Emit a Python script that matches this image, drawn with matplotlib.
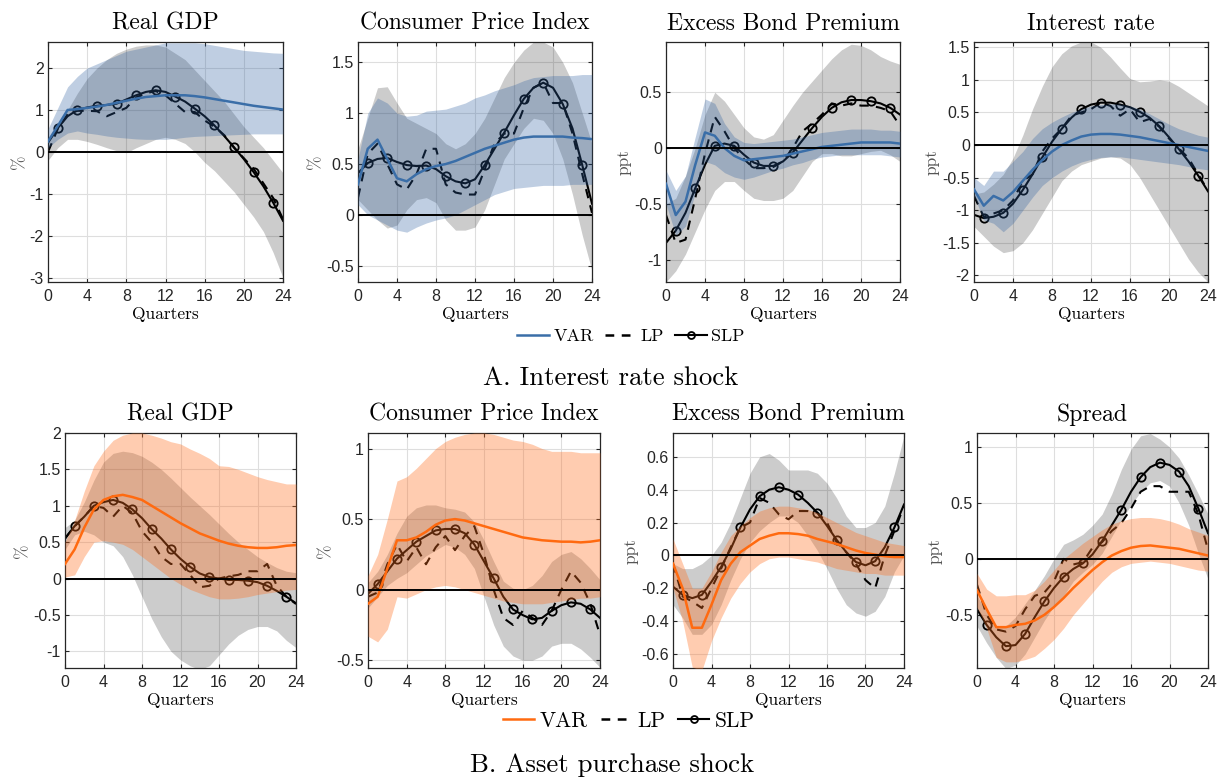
import numpy as np
import matplotlib
matplotlib.use('Agg')
import matplotlib.pyplot as plt
import matplotlib.ticker as ticker
from matplotlib.lines import Line2D

quarters = np.arange(25)

# ---- A. Interest rate shock ----
gdp_a_var = [0.25, 0.62, 1.0, 1.02, 1.05, 1.08, 1.12, 1.17, 1.22, 1.27, 1.31, 1.33, 1.35, 1.35, 1.35, 1.33, 1.3, 1.26, 1.22, 1.18, 1.14, 1.1, 1.07, 1.04, 1.01]
gdp_a_var_lo = [0.1, 0.3, 0.45, 0.5, 0.45, 0.42, 0.38, 0.35, 0.33, 0.31, 0.3, 0.3, 0.3, 0.32, 0.35, 0.37, 0.38, 0.39, 0.4, 0.41, 0.42, 0.43, 0.43, 0.43, 0.43]
gdp_a_var_hi = [0.55, 1.05, 1.55, 1.8, 2.0, 2.1, 2.2, 2.3, 2.4, 2.45, 2.5, 2.55, 2.6, 2.6, 2.6, 2.6, 2.58, 2.54, 2.5, 2.46, 2.42, 2.4, 2.38, 2.36, 2.35]
gdp_a_lp = [0.0, 0.55, 0.9, 0.98, 0.98, 0.97, 0.85, 0.95, 1.05, 1.3, 1.4, 1.45, 1.35, 1.15, 0.95, 0.95, 0.75, 0.6, 0.4, 0.1, -0.15, -0.4, -0.75, -1.1, -1.6]
gdp_a_slp = [0.22, 0.57, 0.85, 1.0, 1.06, 1.1, 1.12, 1.15, 1.25, 1.35, 1.43, 1.47, 1.43, 1.32, 1.2, 1.03, 0.85, 0.63, 0.38, 0.11, -0.17, -0.48, -0.82, -1.21, -1.64]
gdp_a_slp_lo = [-0.2, 0.1, 0.3, 0.3, 0.25, 0.18, 0.1, 0.03, -0.02, 0.1, 0.2, 0.3, 0.35, 0.3, 0.2, 0.0, -0.25, -0.45, -0.7, -0.95, -1.25, -1.55, -1.9, -2.4, -3.0]
gdp_a_slp_hi = [0.3, 0.65, 1.0, 1.4, 1.75, 2.0, 2.2, 2.35, 2.45, 2.52, 2.55, 2.55, 2.5, 2.35, 2.2, 1.95, 1.7, 1.45, 1.2, 0.9, 0.6, 0.35, 0.1, -0.2, -0.5]

cpi_a_var = [0.3, 0.65, 0.74, 0.55, 0.36, 0.33, 0.4, 0.45, 0.48, 0.5, 0.53, 0.57, 0.61, 0.65, 0.68, 0.71, 0.74, 0.76, 0.77, 0.77, 0.77, 0.77, 0.76, 0.755, 0.745]
cpi_a_var_lo = [0.1, 0.0, -0.05, -0.1, -0.15, -0.17, -0.12, -0.08, -0.05, -0.03, 0.0, 0.05, 0.1, 0.15, 0.2, 0.23, 0.26, 0.27, 0.28, 0.29, 0.29, 0.29, 0.3, 0.3, 0.3]
cpi_a_var_hi = [0.55, 1.0, 1.15, 1.1, 1.0, 0.97, 0.98, 1.02, 1.03, 1.04, 1.07, 1.1, 1.15, 1.18, 1.22, 1.25, 1.28, 1.32, 1.35, 1.36, 1.37, 1.37, 1.37, 1.38, 1.38]
cpi_a_lp = [0.17, 0.6, 0.7, 0.5, 0.3, 0.25, 0.4, 0.65, 0.65, 0.3, 0.22, 0.2, 0.2, 0.45, 0.7, 0.8, 0.8, 1.05, 1.25, 1.3, 1.1, 1.1, 0.8, 0.4, 0.02]
cpi_a_slp = [0.41, 0.51, 0.55, 0.56, 0.52, 0.49, 0.48, 0.485, 0.45, 0.38, 0.33, 0.31, 0.35, 0.49, 0.65, 0.81, 0.98, 1.14, 1.25, 1.3, 1.25, 1.09, 0.85, 0.49, 0.11]
cpi_a_slp_lo = [0.15, 0.05, -0.05, -0.13, -0.1, 0.05, 0.15, 0.17, 0.12, -0.05, -0.15, -0.15, -0.12, 0.05, 0.3, 0.55, 0.7, 0.85, 0.95, 0.93, 0.8, 0.55, 0.2, -0.2, -0.55]
cpi_a_slp_hi = [0.65, 0.95, 1.25, 1.26, 1.1, 0.95, 0.9, 0.85, 0.8, 0.7, 0.65, 0.7, 0.8, 0.95, 1.15, 1.35, 1.5, 1.62, 1.7, 1.7, 1.65, 1.5, 1.3, 1.0, 0.7]

ebp_a_var = [-0.32, -0.6, -0.48, -0.15, 0.14, 0.11, 0.0, -0.07, -0.11, -0.1, -0.09, -0.08, -0.07, -0.05, -0.03, -0.01, 0.01, 0.02, 0.03, 0.04, 0.05, 0.05, 0.05, 0.05, 0.04]
ebp_a_var_lo = [-0.5, -0.78, -0.7, -0.4, -0.12, -0.15, -0.22, -0.26, -0.28, -0.26, -0.23, -0.2, -0.18, -0.15, -0.13, -0.1, -0.08, -0.07, -0.06, -0.06, -0.06, -0.06, -0.06, -0.07, -0.08]
ebp_a_var_hi = [-0.2, -0.38, -0.25, 0.1, 0.44, 0.4, 0.22, 0.1, 0.05, 0.04, 0.05, 0.06, 0.07, 0.08, 0.1, 0.12, 0.14, 0.15, 0.16, 0.17, 0.17, 0.17, 0.16, 0.16, 0.15]
ebp_a_lp = [-0.6, -0.85, -0.82, -0.45, -0.05, 0.28, 0.15, 0.0, -0.1, -0.18, -0.18, -0.17, -0.12, 0.0, 0.15, 0.22, 0.3, 0.4, 0.38, 0.4, 0.38, 0.38, 0.36, 0.33, 0.2]
ebp_a_slp = [-0.85, -0.74, -0.58, -0.36, -0.15, 0.02, 0.04, 0.02, -0.06, -0.13, -0.16, -0.16, -0.12, -0.04, 0.07, 0.18, 0.28, 0.36, 0.41, 0.43, 0.43, 0.42, 0.4, 0.36, 0.3]
ebp_a_slp_lo = [-1.2, -1.1, -0.95, -0.75, -0.55, -0.38, -0.3, -0.3, -0.38, -0.45, -0.47, -0.47, -0.45, -0.38, -0.25, -0.12, -0.05, -0.05, -0.07, -0.07, -0.05, -0.03, -0.02, -0.06, -0.12]
ebp_a_slp_hi = [-0.5, -0.45, -0.25, 0.0, 0.3, 0.5, 0.42, 0.3, 0.18, 0.1, 0.08, 0.12, 0.25, 0.38, 0.5, 0.6, 0.7, 0.8, 0.88, 0.93, 0.92, 0.88, 0.82, 0.78, 0.75]

ir_a_var = [-0.68, -0.93, -0.78, -0.85, -0.72, -0.55, -0.38, -0.23, -0.1, 0.0, 0.07, 0.13, 0.16, 0.17, 0.17, 0.16, 0.14, 0.12, 0.09, 0.06, 0.03, 0.0, -0.03, -0.06, -0.09]
ir_a_var_lo = [-0.78, -1.15, -1.2, -1.33, -1.2, -1.0, -0.8, -0.62, -0.5, -0.4, -0.32, -0.26, -0.22, -0.19, -0.18, -0.18, -0.2, -0.22, -0.24, -0.26, -0.28, -0.3, -0.33, -0.36, -0.38]
ir_a_var_hi = [-0.5, -0.62, -0.4, -0.4, -0.25, -0.1, 0.1, 0.25, 0.35, 0.43, 0.5, 0.55, 0.6, 0.62, 0.63, 0.63, 0.6, 0.55, 0.48, 0.4, 0.32, 0.25, 0.2, 0.15, 0.12]
ir_a_lp = [-0.78, -1.1, -1.05, -1.0, -0.85, -0.55, -0.45, -0.1, 0.1, 0.25, 0.45, 0.5, 0.55, 0.65, 0.6, 0.45, 0.55, 0.35, 0.4, 0.28, 0.1, -0.05, -0.2, -0.45, -0.7]
ir_a_slp = [-1.07, -1.12, -1.1, -1.04, -0.9, -0.69, -0.45, -0.19, 0.05, 0.25, 0.42, 0.55, 0.62, 0.65, 0.65, 0.62, 0.58, 0.51, 0.42, 0.29, 0.12, -0.06, -0.25, -0.47, -0.71]
ir_a_slp_lo = [-1.25, -1.4, -1.55, -1.65, -1.62, -1.5, -1.3, -1.05, -0.8, -0.55, -0.4, -0.3, -0.25, -0.2, -0.18, -0.2, -0.3, -0.5, -0.75, -1.0, -1.25, -1.5, -1.75, -1.95, -2.1]
ir_a_slp_hi = [-0.75, -0.72, -0.6, -0.45, -0.2, 0.15, 0.55, 0.9, 1.2, 1.4, 1.52, 1.58, 1.58, 1.5, 1.35, 1.18, 1.02, 0.97, 0.98, 1.0, 0.98, 0.9, 0.8, 0.7, 0.6]

# ---- B. Asset purchase shock ----
gdp_b_var = [0.2, 0.4, 0.7, 0.95, 1.08, 1.13, 1.15, 1.12, 1.08, 1.0, 0.92, 0.84, 0.76, 0.69, 0.62, 0.57, 0.52, 0.48, 0.45, 0.43, 0.42, 0.42, 0.43, 0.45, 0.46]
gdp_b_var_lo = [0.02, 0.05, 0.3, 0.5, 0.52, 0.5, 0.47, 0.4, 0.3, 0.2, 0.1, 0.0, -0.08, -0.15, -0.2, -0.25, -0.28, -0.28, -0.27, -0.25, -0.22, -0.2, -0.18, -0.16, -0.15]
gdp_b_var_hi = [0.5, 0.8, 1.2, 1.55, 1.75, 1.9, 1.97, 2.0, 2.0, 1.97, 1.93, 1.88, 1.85, 1.78, 1.72, 1.65, 1.55, 1.54, 1.5, 1.45, 1.4, 1.36, 1.33, 1.3, 1.3]
gdp_b_lp = [0.55, 0.72, 0.85, 1.0, 0.97, 0.85, 1.0, 0.9, 0.65, 0.5, 0.3, 0.2, 0.2, 0.05, -0.12, -0.1, 0.0, 0.03, 0.05, 0.1, 0.1, 0.2, -0.1, -0.25, -0.35]
gdp_b_slp = [0.55, 0.72, 0.85, 1.0, 1.05, 1.08, 1.04, 0.95, 0.83, 0.68, 0.55, 0.4, 0.27, 0.16, 0.07, 0.02, 0.0, -0.02, -0.02, -0.03, -0.05, -0.1, -0.17, -0.25, -0.34]
gdp_b_slp_lo = [0.4, 0.6, 0.65, 0.6, 0.5, 0.45, 0.3, 0.05, -0.25, -0.55, -0.8, -1.0, -1.12, -1.2, -1.25, -1.2, -1.05, -0.9, -0.78, -0.7, -0.66, -0.66, -0.72, -0.85, -0.95]
gdp_b_slp_hi = [0.7, 0.8, 1.05, 1.35, 1.6, 1.72, 1.75, 1.73, 1.68, 1.6, 1.5, 1.38, 1.25, 1.12, 1.0, 0.88, 0.75, 0.62, 0.5, 0.4, 0.3, 0.22, 0.15, 0.1, 0.08]

cpi_b_var = [-0.1, -0.05, 0.15, 0.35, 0.35, 0.37, 0.41, 0.46, 0.49, 0.5, 0.49, 0.47, 0.45, 0.43, 0.41, 0.39, 0.37, 0.36, 0.35, 0.345, 0.34, 0.34, 0.335, 0.34, 0.35]
cpi_b_var_lo = [-0.33, -0.37, -0.28, -0.05, -0.06, -0.03, 0.0, 0.02, 0.03, 0.02, 0.0, -0.02, -0.04, -0.06, -0.08, -0.09, -0.1, -0.1, -0.1, -0.09, -0.08, -0.07, -0.06, -0.06, -0.05]
cpi_b_var_hi = [0.1, 0.25, 0.5, 0.77, 0.8, 0.86, 0.93, 1.0, 1.05, 1.08, 1.1, 1.11, 1.11, 1.1, 1.08, 1.06, 1.05, 1.03, 1.0, 0.98, 0.98, 0.98, 0.97, 0.97, 0.97]
cpi_b_lp = [-0.05, -0.02, 0.18, 0.32, 0.2, 0.3, 0.18, 0.3, 0.38, 0.28, 0.38, 0.45, 0.25, 0.0, -0.2, -0.25, -0.15, -0.2, -0.25, -0.15, 0.0, 0.13, 0.05, -0.1, -0.32]
cpi_b_slp = [-0.03, 0.04, 0.13, 0.22, 0.28, 0.34, 0.38, 0.42, 0.43, 0.43, 0.4, 0.32, 0.2, 0.08, -0.05, -0.14, -0.18, -0.21, -0.2, -0.15, -0.11, -0.09, -0.1, -0.14, -0.2]
cpi_b_slp_lo = [-0.13, -0.05, 0.03, 0.08, 0.12, 0.18, 0.24, 0.28, 0.32, 0.3, 0.25, 0.15, -0.05, -0.25, -0.4, -0.47, -0.5, -0.5, -0.47, -0.4, -0.38, -0.38, -0.42, -0.48, -0.55]
cpi_b_slp_hi = [0.05, 0.13, 0.25, 0.4, 0.52, 0.58, 0.6, 0.6, 0.58, 0.57, 0.55, 0.48, 0.35, 0.2, 0.06, 0.01, 0.0, 0.03, 0.1, 0.2, 0.25, 0.27, 0.22, 0.15, 0.07]

ebp_b_var = [-0.05, -0.2, -0.44, -0.44, -0.3, -0.15, -0.05, 0.02, 0.06, 0.1, 0.12, 0.135, 0.135, 0.13, 0.12, 0.1, 0.085, 0.07, 0.05, 0.03, 0.015, 0.005, -0.005, -0.01, -0.01]
ebp_b_var_lo = [-0.2, -0.4, -0.68, -0.7, -0.52, -0.38, -0.26, -0.17, -0.1, -0.05, -0.02, -0.01, -0.01, -0.02, -0.03, -0.04, -0.06, -0.08, -0.09, -0.1, -0.11, -0.11, -0.12, -0.12, -0.12]
ebp_b_var_hi = [0.1, -0.05, -0.2, -0.2, -0.1, 0.02, 0.12, 0.18, 0.23, 0.27, 0.29, 0.3, 0.3, 0.29, 0.28, 0.26, 0.23, 0.2, 0.17, 0.14, 0.12, 0.1, 0.08, 0.07, 0.06]
ebp_b_lp = [-0.05, -0.25, -0.28, -0.32, -0.2, -0.08, 0.05, 0.17, 0.2, 0.35, 0.32, 0.25, 0.22, 0.27, 0.27, 0.26, 0.2, 0.08, 0.02, -0.05, -0.15, -0.2, 0.0, 0.15, 0.3]
ebp_b_slp = [-0.19, -0.24, -0.26, -0.24, -0.16, -0.07, 0.04, 0.17, 0.28, 0.36, 0.4, 0.415, 0.4, 0.37, 0.32, 0.26, 0.18, 0.095, 0.02, -0.04, -0.06, -0.035, 0.05, 0.17, 0.31]
ebp_b_slp_lo = [-0.3, -0.38, -0.48, -0.48, -0.42, -0.3, -0.15, -0.02, 0.08, 0.15, 0.2, 0.24, 0.24, 0.2, 0.12, 0.03, -0.08, -0.2, -0.3, -0.35, -0.37, -0.34, -0.25, -0.1, 0.0]
ebp_b_slp_hi = [-0.05, -0.08, -0.08, -0.05, 0.0, 0.08, 0.2, 0.35, 0.5, 0.6, 0.62, 0.58, 0.52, 0.52, 0.52, 0.5, 0.44, 0.35, 0.24, 0.17, 0.17, 0.2, 0.3, 0.5, 0.73]

spr_b_var = [-0.28, -0.45, -0.61, -0.61, -0.59, -0.58, -0.55, -0.5, -0.43, -0.35, -0.26, -0.18, -0.1, -0.03, 0.03, 0.07, 0.1, 0.115, 0.12, 0.11, 0.1, 0.09, 0.07, 0.05, 0.03]
spr_b_var_lo = [-0.43, -0.62, -0.88, -0.92, -0.92, -0.9, -0.87, -0.8, -0.72, -0.62, -0.5, -0.4, -0.3, -0.2, -0.12, -0.07, -0.04, -0.03, -0.02, -0.03, -0.04, -0.06, -0.08, -0.1, -0.11]
spr_b_var_hi = [-0.13, -0.27, -0.33, -0.33, -0.32, -0.32, -0.28, -0.2, -0.1, 0.0, 0.07, 0.14, 0.2, 0.26, 0.31, 0.34, 0.36, 0.37, 0.37, 0.36, 0.34, 0.31, 0.27, 0.24, 0.21]
spr_b_lp = [-0.23, -0.5, -0.63, -0.65, -0.6, -0.45, -0.33, -0.3, -0.2, 0.0, -0.05, -0.03, 0.1, 0.15, 0.25, 0.32, 0.45, 0.6, 0.65, 0.65, 0.6, 0.6, 0.6, 0.4, 0.08]
spr_b_slp = [-0.45, -0.59, -0.7, -0.78, -0.77, -0.67, -0.52, -0.38, -0.26, -0.16, -0.09, -0.04, 0.04, 0.16, 0.3, 0.44, 0.6, 0.73, 0.82, 0.86, 0.84, 0.78, 0.65, 0.45, 0.23]
spr_b_slp_lo = [-0.6, -0.75, -0.88, -0.98, -0.95, -0.85, -0.7, -0.55, -0.42, -0.33, -0.2, -0.12, -0.05, 0.05, 0.2, 0.35, 0.48, 0.6, 0.68, 0.7, 0.65, 0.5, 0.3, 0.05, -0.18]
spr_b_slp_hi = [-0.33, -0.47, -0.6, -0.6, -0.52, -0.4, -0.28, -0.15, 0.0, 0.13, 0.17, 0.22, 0.3, 0.4, 0.58, 0.8, 0.98, 1.1, 1.12, 1.07, 1.0, 0.9, 0.75, 0.58, 0.4]

BLUE = '#3a6ea8'
BLUE_BAND = '#2d5fa0'
ORANGE = '#ff6a10'
ORANGE_BAND = '#ff6e1e'

SERIF = 'cmr10'
plt.rcParams['font.family'] = 'Liberation Sans'
plt.rcParams['axes.unicode_minus'] = False


def draw_panel(ax, title, ylab, var, var_lo, var_hi, lp, slp, slp_lo, slp_hi,
               line_col, band_col, band_alpha, ylim, yticks):
    ax.fill_between(quarters, slp_lo, slp_hi, color='k', alpha=0.2, lw=0, zorder=1)
    ax.plot(quarters, slp, color='k', lw=1.5, marker='o', markersize=6,
            markerfacecolor='none', markeredgewidth=1.3,
            markevery=slice(1, None, 2), zorder=2)
    ax.plot(quarters, lp, color='k', lw=1.5, ls=(0, (4.5, 3.5)), zorder=2)
    ax.fill_between(quarters, var_lo, var_hi, color=band_col, alpha=band_alpha, lw=0, zorder=3)
    ax.plot(quarters, var, color=line_col, lw=1.8, zorder=4)
    ax.axhline(0, color='k', lw=1.4, zorder=5)

    ax.set_xlim(0, 24)
    ax.set_ylim(*ylim)
    ax.set_xticks(range(0, 25, 4))
    ax.set_yticks(yticks)
    ax.yaxis.set_major_formatter(ticker.FuncFormatter(lambda v, p: '%g' % round(v, 3)))
    ax.grid(True, color='#dedede', lw=0.8, zorder=0)
    ax.set_axisbelow(True)
    ax.tick_params(direction='in', top=True, right=True, length=3, width=0.8,
                   labelsize=11.5, colors='#262626', pad=3)
    ax.tick_params(axis='x', pad=5)
    for s in ax.spines.values():
        s.set_color('#262626')
        s.set_linewidth(0.9)
    ax.set_title(title, family=SERIF, fontsize=17, pad=9)
    ax.set_xlabel('Quarters', family=SERIF, fontsize=12.5, labelpad=2)
    ax.set_ylabel(ylab, family=SERIF, fontsize=12.5, color='#555555', labelpad=2)


fig = plt.figure(figsize=(12.17, 7.8), dpi=100)
W, H = 1217.0, 780.0


def add_axes(x0, x1, ytop, ybot):
    return fig.add_axes([x0 / W, 1 - ybot / H, (x1 - x0) / W, (ybot - ytop) / H])


top = [(48, 283), (358, 592), (666, 900), (974, 1208)]
bot = [(65, 296), (368, 600), (673, 904), (977, 1208)]

ax = add_axes(*top[0], 42, 282)
draw_panel(ax, 'Real GDP', '%', gdp_a_var, gdp_a_var_lo, gdp_a_var_hi, gdp_a_lp,
           gdp_a_slp, gdp_a_slp_lo, gdp_a_slp_hi, BLUE, BLUE_BAND, 0.3,
           (-3.1, 2.62), [-3, -2, -1, 0, 1, 2])
ax = add_axes(*top[1], 42, 282)
draw_panel(ax, 'Consumer Price Index', '%', cpi_a_var, cpi_a_var_lo, cpi_a_var_hi, cpi_a_lp,
           cpi_a_slp, cpi_a_slp_lo, cpi_a_slp_hi, BLUE, BLUE_BAND, 0.3,
           (-0.66, 1.70), [-0.5, 0, 0.5, 1, 1.5])
ax = add_axes(*top[2], 42, 282)
draw_panel(ax, 'Excess Bond Premium', 'ppt', ebp_a_var, ebp_a_var_lo, ebp_a_var_hi, ebp_a_lp,
           ebp_a_slp, ebp_a_slp_lo, ebp_a_slp_hi, BLUE, BLUE_BAND, 0.3,
           (-1.2, 0.95), [-1, -0.5, 0, 0.5])
ax = add_axes(*top[3], 42, 282)
draw_panel(ax, 'Interest rate', 'ppt', ir_a_var, ir_a_var_lo, ir_a_var_hi, ir_a_lp,
           ir_a_slp, ir_a_slp_lo, ir_a_slp_hi, BLUE, BLUE_BAND, 0.3,
           (-2.1, 1.58), [-2, -1.5, -1, -0.5, 0, 0.5, 1, 1.5])

ax = add_axes(*bot[0], 433, 668)
draw_panel(ax, 'Real GDP', '%', gdp_b_var, gdp_b_var_lo, gdp_b_var_hi, gdp_b_lp,
           gdp_b_slp, gdp_b_slp_lo, gdp_b_slp_hi, ORANGE, ORANGE_BAND, 0.35,
           (-1.23, 2.0), [-1, -0.5, 0, 0.5, 1, 1.5, 2])
ax = add_axes(*bot[1], 433, 668)
draw_panel(ax, 'Consumer Price Index', '%', cpi_b_var, cpi_b_var_lo, cpi_b_var_hi, cpi_b_lp,
           cpi_b_slp, cpi_b_slp_lo, cpi_b_slp_hi, ORANGE, ORANGE_BAND, 0.35,
           (-0.555, 1.11), [-0.5, 0, 0.5, 1])
ax = add_axes(*bot[2], 433, 668)
draw_panel(ax, 'Excess Bond Premium', 'ppt', ebp_b_var, ebp_b_var_lo, ebp_b_var_hi, ebp_b_lp,
           ebp_b_slp, ebp_b_slp_lo, ebp_b_slp_hi, ORANGE, ORANGE_BAND, 0.35,
           (-0.685, 0.745), [-0.6, -0.4, -0.2, 0, 0.2, 0.4, 0.6])
ax = add_axes(*bot[3], 433, 668)
draw_panel(ax, 'Spread', 'ppt', spr_b_var, spr_b_var_lo, spr_b_var_hi, spr_b_lp,
           spr_b_slp, spr_b_slp_lo, spr_b_slp_hi, ORANGE, ORANGE_BAND, 0.35,
           (-0.975, 1.125), [-0.5, 0, 0.5, 1])


def legend_handles(col):
    return [Line2D([], [], color=col, lw=1.8),
            Line2D([], [], color='k', lw=1.8, ls=(0, (3.5, 3))),
            Line2D([], [], color='k', lw=1.5, marker='o', markersize=5,
                   markerfacecolor='none', markeredgewidth=1.3)]


fig.legend(legend_handles(BLUE), ['VAR', 'LP', 'SLP'], loc='center',
           bbox_to_anchor=(631 / W, 1 - 336 / H), ncol=3, frameon=False,
           prop={'family': SERIF, 'size': 13}, handlelength=1.75,
           handletextpad=0.25, columnspacing=0.6)
fig.legend(legend_handles(ORANGE), ['VAR', 'LP', 'SLP'], loc='center',
           bbox_to_anchor=(629 / W, 1 - 721 / H), ncol=3, frameon=False,
           prop={'family': SERIF, 'size': 15.5}, handlelength=1.45,
           handletextpad=0.25, columnspacing=0.6)

fig.text(0.502, 1 - 378 / H, 'A. Interest rate shock', ha='center', va='center',
         family=SERIF, fontsize=19.3)
fig.text(0.503, 1 - 765 / H, 'B. Asset purchase shock', ha='center', va='center',
         family=SERIF, fontsize=19.3)

fig.savefig('out.png', dpi=100)
